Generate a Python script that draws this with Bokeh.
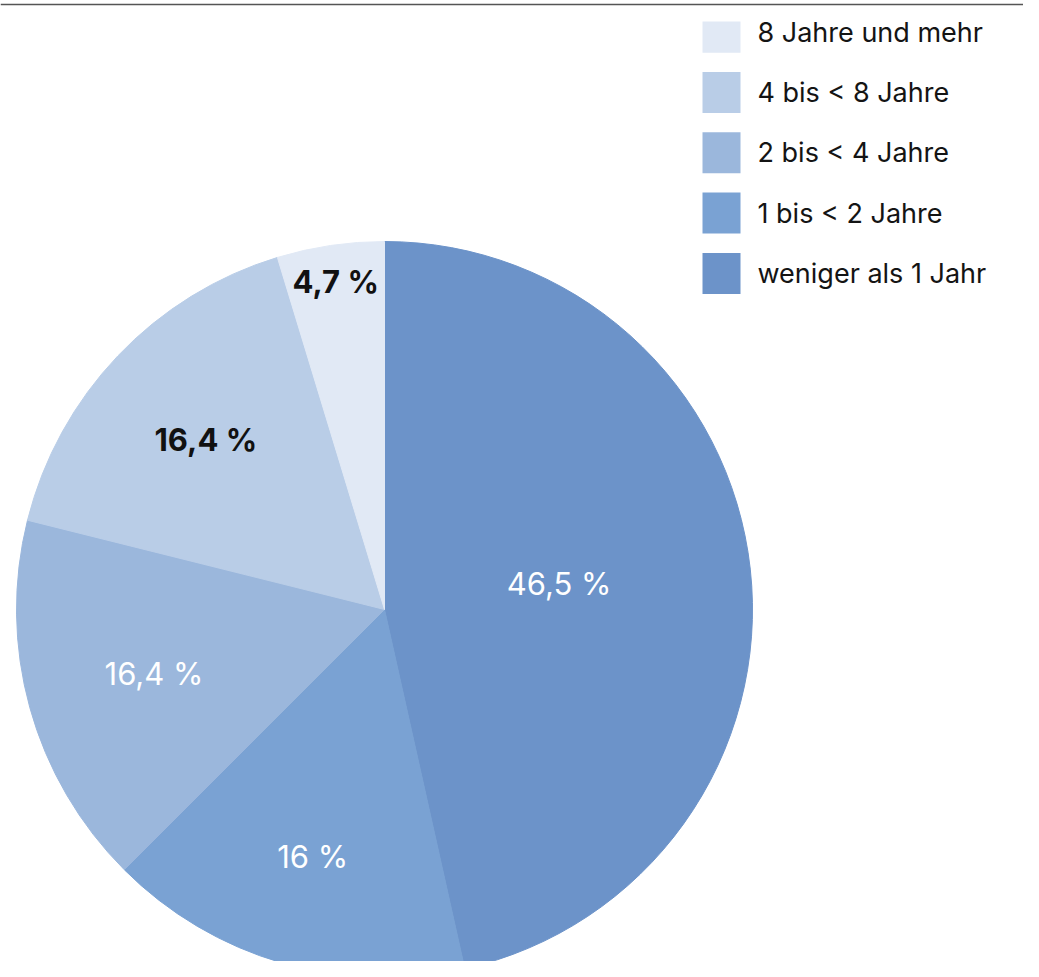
import math
from bokeh.plotting import figure
from bokeh.models import Range1d, ColumnDataSource
from bokeh.core.properties import value
from bokeh.embed import file_html
from bokeh.resources import INLINE

# ---- data ----
categories = ["weniger als 1 Jahr", "1 bis < 2 Jahre", "2 bis < 4 Jahre",
              "4 bis < 8 Jahre", "8 Jahre und mehr"]
shares = [46.5, 16.0, 16.4, 16.4, 4.7]
share_labels = ["46,5 %", "16 %", "16,4 %", "16,4 %", "4,7 %"]

# ---- styles ----
colors = ["#6c93c9", "#7aa2d3", "#9bb7dc", "#b9cde7", "#e1e9f5"]
label_colors = ["#ffffff", "#ffffff", "#ffffff", "#111111", "#111111"]
label_styles = ["normal", "normal", "normal", "bold", "bold"]
label_radius_frac = [0.48, 0.70, 0.65, 0.67, 0.90]
label_angle_shift_deg = [2.3, 0.0, 0.0, 0.0, 0.0]

W, H = 1039, 977
FW, FH = W - 16, H - 16
FONT = "Inter"

def Y(y_page):
    return H - y_page

p = figure(width=FW, height=FH, output_backend="svg", toolbar_location=None,
           x_range=Range1d(0, FW), y_range=Range1d(H - FH, H), min_border=0)
p.axis.visible = False
p.grid.visible = False
p.outline_line_color = None
p.background_fill_color = "white"
p.border_fill_color = "white"

cx, cy, R = 384, Y(609), 368

total = sum(shares)
starts, ends, lx, ly = [], [], [], []
cum = 0.0
for i, s in enumerate(shares):
    a0 = math.pi / 2 - 2 * math.pi * cum / total
    cum += s
    a1 = math.pi / 2 - 2 * math.pi * cum / total
    starts.append(a0)
    ends.append(a1)
    mid = (a0 + a1) / 2 + math.radians(label_angle_shift_deg[i])
    r = R * label_radius_frac[i]
    lx.append(cx + r * math.cos(mid))
    ly.append(cy + r * math.sin(mid))

src = ColumnDataSource(dict(start=starts, end=ends, color=colors, cat=categories,
                            lab=share_labels, lx=lx, ly=ly, lc=label_colors, ls=label_styles))

p.wedge(x=cx, y=cy, radius=R, start_angle="start", end_angle="end", direction="clock",
        fill_color="color", line_color="color", line_width=1, source=src)

p.text(x="lx", y="ly", text="lab", text_color="lc", text_font_style="ls",
       text_font=value(FONT), text_font_size="31px", text_align="center",
       text_baseline="middle", source=src)

# legend (top: last category); top swatch is clipped at the top edge like the reference
centers = [31.7 + 60.3 * i for i in range(len(categories))]
tops = [Y(max(c - 20.5, 21)) for c in centers]
bottoms = [Y(c + 20.5) for c in centers]
leg_src = ColumnDataSource(dict(y=[Y(c) for c in centers], top=tops, bottom=bottoms,
                                cat=categories[::-1], color=colors[::-1]))
p.quad(left=702, right=740, top="top", bottom="bottom", fill_color="color",
       line_color=None, source=leg_src)
p.text(x=757, y="y", text="cat", text_color="#141414", text_font=value(FONT),
       text_font_size="27px", text_align="left", text_baseline="middle", source=leg_src)

# top rule
p.line(x=[0, FW], y=[Y(4), Y(4)], line_color="#555555", line_width=1.5)

open("out.html", "w").write(file_html(p, INLINE))
